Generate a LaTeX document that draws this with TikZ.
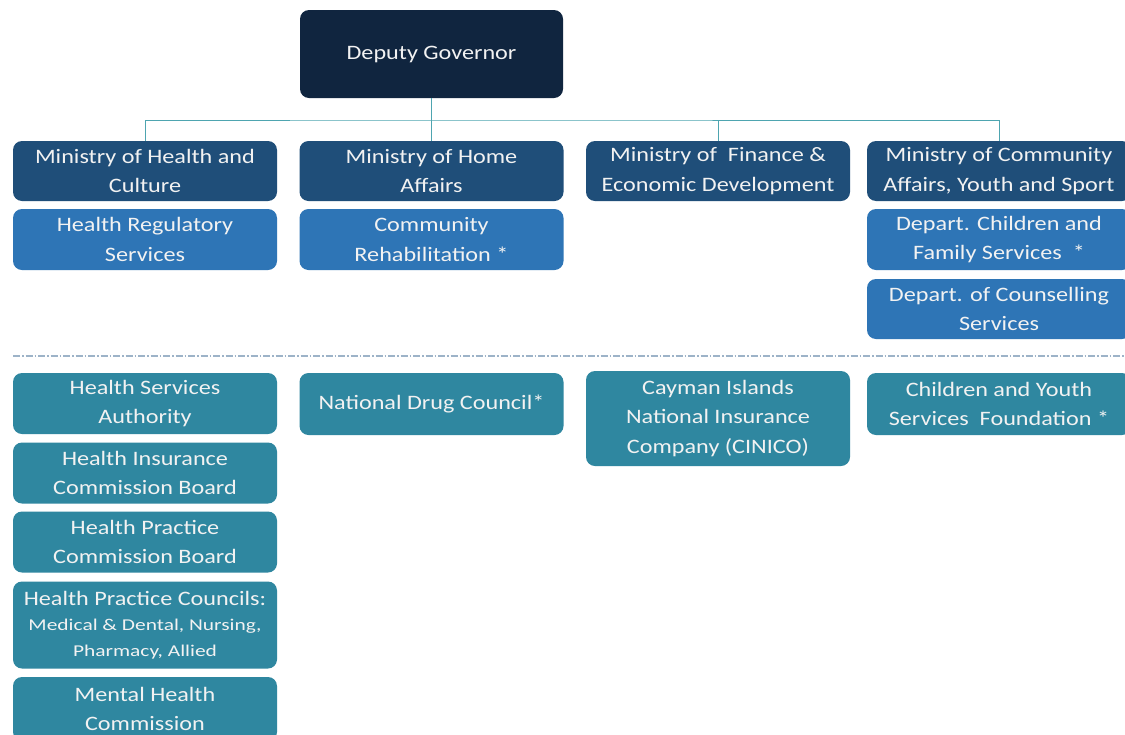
\documentclass[tikz,border=0pt]{standalone}
\usepackage{fontspec}
\setmainfont{Carlito}[FakeStretch=1.18]
\usetikzlibrary{positioning}
\definecolor{dgc}{HTML}{10253F}
\definecolor{minc}{HTML}{1F4E79}
\definecolor{subc}{HTML}{2E75B6}
\definecolor{tealc}{HTML}{2F87A0}
\definecolor{linec}{HTML}{4EA5B0}
\definecolor{dashc}{HTML}{9DB3C8}
\definecolor{txtc}{HTML}{F2F2F2}
\tikzset{
  box/.style={rounded corners=9pt, inner sep=0pt, align=center, text=txtc,
    minimum width=264pt, font=\fontsize{20.5}{29.5}\selectfont},
  dgbox/.style={box, fill=dgc, minimum width=263pt, minimum height=88pt},
  minbox/.style={box, fill=minc, minimum height=60pt},
  subbox/.style={box, fill=subc, minimum height=61pt},
  agbox/.style={box, fill=tealc, minimum height=61pt},
  conn/.style={draw=linec, line width=1pt},
}
\begin{document}
\begin{tikzpicture}[x=1pt,y=-1pt]
\useasboundingbox (0,0) rectangle (1125,734);
\fill[white] (0,0) rectangle (1125,734);
% top
\node[dgbox] (dg) at (431.5,54) {Deputy Governor};
% ministries
\node[minbox] (m1) at (145,171) {Ministry of Health and\\Culture};
\node[minbox] (m2) at (431.5,171) {Ministry of Home\\Affairs};
\node[minbox] (m3) at (718,171) {Ministry of \ Finance \&\\Economic Development};
\node[minbox] (m4) at (999,171) {Ministry of Community\\Affairs, Youth and Sport};
% departments
\node[subbox] (s1) at (145,239.5) {Health Regulatory\\Services};
\node[subbox] (s2) at (431.5,239.5) {Community\\Rehabilitation *};
\node[subbox] (s3) at (999,239.5) {Depart. Children and\\Family Services \ *};
\node[subbox, minimum height=60pt] (s4) at (999,309) {Depart. of Counselling\\Services};
% dashed separator
\coordinate (dl) at (13,356);
\coordinate (dr) at (1125,356);
\draw[dashc, line width=1.2pt, dash pattern=on 7pt off 2pt on 1.5pt off 2pt] (dl) -- (dr);
% agencies
\node[agbox] (a1) at (145,403.5) {Health Services\\Authority};
\node[agbox] (a2) at (145,473) {Health Insurance\\Commission Board};
\node[agbox] (a3) at (145,542) {Health Practice\\Commission Board};
\node[agbox, minimum height=87pt] (a4) at (145,625) {Health Practice Councils:\\[-4pt]{\fontsize{16.5}{24}\selectfont\scalebox{1.1}[1]{Medical \& Dental, Nursing,}}\\[-4pt]{\fontsize{16.5}{24}\selectfont\scalebox{1.1}[1]{Pharmacy, Allied}}};
\node[agbox, minimum height=64pt] (a5) at (145,709) {Mental Health\\Commission};
\node[agbox, minimum height=62pt] (b1) at (431.5,404) {National Drug Council*};
\node[agbox, minimum height=95pt] (c1) at (718,418.5) {Cayman Islands\\National Insurance\\Company (CINICO)};
\node[agbox, minimum height=62pt] (d1) at (999,404) {Children and Youth\\Services \ Foundation *};
% connectors
\coordinate (bus) at (431.5,120);
\draw[conn] (dg.south) -- (bus);
\draw[conn] (m1.north) |- (bus) -| (m4.north);
\draw[conn] (bus) -- (m2.north);
\draw[conn] (m3.north) -- (m3.north |- bus);
\end{tikzpicture}
\end{document}
